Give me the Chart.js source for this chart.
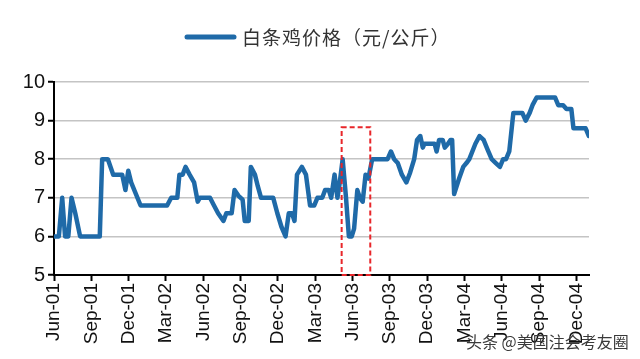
<!DOCTYPE html>
<html>
<head>
<meta charset="utf-8">
<script src="https://cdn.jsdelivr.net/npm/chart.js@4.4.1/dist/chart.umd.min.js"></script>
<style>
  html, body { margin: 0; padding: 0; background: #fff; }
  #wrap { width: 640px; height: 359px; position: relative; }
</style>
</head>
<body>
<div id="wrap"><canvas id="c" width="640" height="359"></canvas></div>
<script>
// Months since Jun-2001 (fractional) and price (元/公斤)
const months = [0.00,0.39,0.66,0.89,1.15,1.41,1.71,2.10,3.68,3.87,4.33,4.76,5.48,5.74,5.97,6.20,6.96,9.09,9.42,9.91,
  10.08,10.34,10.57,10.90,11.26,11.55,11.72,12.54,12.86,13.19,13.62,13.85,14.28,14.51,14.83,15.16,15.33,15.65,15.82,16.15,
  16.38,16.64,17.62,17.95,18.28,18.61,18.87,19.13,19.33,19.53,19.92,20.25,20.58,20.91,21.17,21.56,21.79,22.09,22.28,22.55,
  22.78,22.97,23.20,23.47,23.70,23.93,24.12,24.38,24.58,24.81,25.04,25.27,25.57,26.81,27.08,27.34,27.63,27.96,28.32,28.62,
  28.95,29.18,29.44,29.64,29.77,30.59,30.75,30.95,31.24,31.41,31.67,31.87,32.00,32.16,32.56,32.89,33.15,33.38,33.87,34.20,
  34.53,34.85,35.18,35.51,35.84,36.10,36.33,36.59,36.92,37.64,37.91,38.23,38.46,38.79,40.27,40.53,40.92,41.19,41.58,41.75,
  42.73,42.99];
const prices = [6.0,6.0,7.0,6.0,6.0,7.0,6.6,6.0,6.0,8.0,8.0,7.6,7.6,7.2,7.7,7.4,6.8,6.8,7.0,7.0,
  7.6,7.6,7.8,7.6,7.4,6.9,7.0,7.0,6.8,6.6,6.4,6.6,6.6,7.2,7.05,6.95,6.4,6.4,7.8,7.6,
  7.3,7.0,7.0,6.6,6.25,6.0,6.6,6.6,6.4,7.6,7.8,7.6,6.8,6.8,7.0,7.0,7.2,7.2,7.0,7.6,
  7.0,7.4,8.0,7.0,6.0,6.0,6.2,7.2,7.0,6.9,7.6,7.5,8.0,8.0,8.2,8.0,7.9,7.6,7.4,7.65,
  8.0,8.5,8.6,8.3,8.4,8.4,8.2,8.5,8.5,8.3,8.4,8.5,8.5,7.1,7.5,7.8,7.9,8.0,8.4,8.6,
  8.5,8.25,8.0,7.9,7.8,8.0,8.0,8.2,9.2,9.2,9.0,9.2,9.4,9.6,9.6,9.4,9.4,9.3,9.3,8.8,
  8.8,8.6];
const tickLabels = ['Jun-01','Sep-01','Dec-01','Mar-02','Jun-02','Sep-02','Dec-02','Mar-03','Jun-03','Sep-03','Dec-03','Mar-04','Jun-04','Sep-04','Dec-04'];
const seriesName = '白条鸡价格（元/公斤）';
// highlighted period: [start month, end month, low value, high value]
const highlight = [23.12, 25.42, 5, 8.83];
const watermark = '头条 @美国注会考友圈';

const lineColor = '#1f6aa8';

const extras = {
  id: 'extras',
  afterDatasetsDraw(chart) {
    const ctx = chart.ctx;
    const xs = chart.scales.x, ys = chart.scales.y;
    ctx.save();
    ctx.strokeStyle = '#e8262a';
    ctx.lineWidth = 2;
    ctx.setLineDash([5, 3]);
    const x0 = xs.getPixelForValue(highlight[0]), x1 = xs.getPixelForValue(highlight[1]);
    const y0 = ys.getPixelForValue(highlight[3]), y1 = ys.getPixelForValue(highlight[2]);
    ctx.strokeRect(x0, y0, x1 - x0, y1 - y0);
    ctx.restore();
  },
  afterDraw(chart) {
    const ctx = chart.ctx;
    ctx.save();
    const ds = chart.data.datasets[0];
    ctx.strokeStyle = ds.borderColor;
    ctx.lineWidth = 5;
    ctx.lineCap = 'round';
    ctx.beginPath();
    ctx.moveTo(187, 37);
    ctx.lineTo(234, 37);
    ctx.stroke();
    ctx.fillStyle = '#333';
    ctx.font = '19px "Noto Sans CJK SC"';
    try { ctx.letterSpacing = '1px'; } catch (e) {}
    ctx.textBaseline = 'middle';
    ctx.textAlign = 'left';
    ctx.fillText(ds.label, 242, 38);
    try { ctx.letterSpacing = '0px'; } catch (e) {}
    ctx.font = '16px "Noto Sans CJK SC"';
    ctx.fillStyle = '#3a3a3a';
    ctx.fillText(watermark, 466, 342);
    ctx.restore();
  }
};

new Chart(document.getElementById('c'), {
  type: 'line',
  data: {
    datasets: [{
      label: seriesName,
      data: months.map((m, i) => ({ x: m, y: prices[i] })),
      borderColor: lineColor,
      backgroundColor: lineColor,
      borderWidth: 4.5,
      pointRadius: 0,
      tension: 0,
      borderJoinStyle: 'round',
      borderCapStyle: 'round'
    }]
  },
  options: {
    responsive: false,
    animation: false,
    layout: { padding: { top: 82, right: 51, left: 0, bottom: 0 } },
    plugins: { legend: { display: false }, tooltip: { enabled: false } },
    scales: {
      x: {
        type: 'linear',
        min: 0, max: 43,
        afterBuildTicks(scale) {
          scale.ticks = tickLabels.map((_, i) => ({ value: i * 3 }));
        },
        afterFit(scale) { scale.height = 84; },
        ticks: {
          callback: (v) => tickLabels[Math.round(v / 3)],
          minRotation: 90, maxRotation: 90,
          color: '#111',
          font: { family: 'Liberation Sans', size: 19 },
          padding: 2,
          autoSkip: false
        },
        grid: { drawOnChartArea: false, drawTicks: true, tickLength: 6, tickColor: '#000', tickWidth: 2 },
        border: { color: '#000', width: 2 }
      },
      y: {
        min: 5, max: 10,
        afterFit(scale) { scale.width = 54; },
        ticks: {
          stepSize: 1,
          color: '#111',
          font: { family: 'Liberation Sans', size: 20 },
          padding: 3
        },
        grid: { color: '#c4c4c4', lineWidth: 1.5, tickLength: 6, tickColor: '#000', tickWidth: 2 },
        border: { color: '#000', width: 2 }
      }
    }
  },
  plugins: [extras]
});
</script>
</body>
</html>
